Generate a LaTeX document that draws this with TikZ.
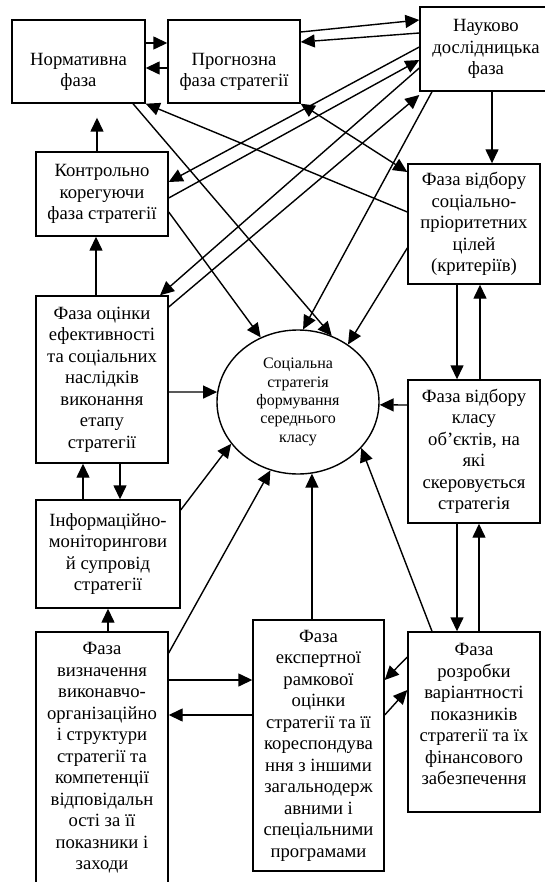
\documentclass[tikz,border=0pt]{standalone}
\usepackage{fontspec}
\setmainfont{Liberation Serif}
\usepackage{tikz}
\usetikzlibrary{
  arrows.meta,
  positioning,
  shapes.geometric
}
\tikzset{
  phasebox/.style={draw, line width=1.4pt, align=center, inner sep=2pt,
    font=\fontsize{18.67}{21.5}\selectfont},
  arr/.style={-{Triangle[length=14pt,width=13pt]}, line width=1.4pt},
  darr/.style={{Triangle[length=14pt,width=13pt]}-{Triangle[length=14pt,width=13pt]},
    line width=1.4pt},
}
\newcommand{\lowstrut}{\rule{0pt}{33pt}}
\newcommand{\deepstrut}{\rule[-16pt]{0pt}{16pt}}

\begin{document}
\begin{tikzpicture}[x=1pt, y=-1pt,
  goal/.style={draw, ellipse, line width=1.4pt, align=center,
    minimum width=162pt, minimum height=144pt, inner sep=0pt,
    font=\fontsize{16}{18.4}\selectfont}
]
  \useasboundingbox (0,0) rectangle (545,882);

  \node[phasebox, minimum width=133pt, minimum height=83pt] (norm) at (78.5,61.5)
    {\lowstrut Нормативна\\фаза};
  \node[phasebox, minimum width=132pt, minimum height=83pt] (prog) at (234,61.5)
    {\lowstrut Прогнозна\\фаза стратегії};
  \node[phasebox, minimum width=132pt, minimum height=84pt] (nauk) at (486,49)
    {Науково\\дослідницька\\фаза};
  \node[phasebox, minimum width=132pt, minimum height=84pt] (kontr) at (102,194)
    {Контрольно\\корегуючи\\фаза стратегії};
  \node[phasebox, minimum width=132pt, minimum height=167pt] (ocin) at (102,379.5)
    {Фаза оцінки\\ефективності\\та соціальних\\наслідків\\виконання\\етапу\\стратегії};
  \node[phasebox, minimum width=144pt, minimum height=108pt] (inf) at (108,554)
    {Інформаційно-\\моніторингови\\й супровід\\стратегії};
  \node[phasebox, minimum width=132pt, minimum height=252pt] (vyzn) at (102,758)
    {Фаза\\визначення\\виконавчо-\\організаційно\\і структури\\стратегії та\\компетенції\\відповідальн\\ості за її\\показники і\\заходи};
  \node[phasebox, minimum width=131pt, minimum height=251pt] (eksp) at (318.5,745.5)
    {Фаза\\експертної\\рамкової\\оцінки\\стратегії та її\\кореспондува\\ння з іншими\\загальнодерж\\авними і\\спеціальними\\програмами};
  \node[phasebox, minimum width=132pt, minimum height=180pt] (rozr) at (474,722)
    {Фаза\\розробки\\варіантності\\показників\\стратегії та їх\\фінансового\\забезпечення\deepstrut};
  \node[phasebox, minimum width=132pt, minimum height=143pt] (klas) at (474,451.5)
    {Фаза відбору\\класу\\об’єктів, на\\які\\скеровується\\стратегія};
  \node[phasebox, minimum width=132pt, minimum height=120pt] (cil) at (474,224)
    {Фаза відбору\\соціально-\\пріоритетних\\цілей\\(критеріїв)};
  \node[goal] (ell) at (298,402)
    {Соціальна\\стратегія\\формування\\середнього\\класу};

  % top row
  \draw[arr] (norm.east |- 0,43) -- (prog.west |- 0,43);
  \draw[arr] (prog.west |- 0,68) -- (norm.east |- 0,68);
  \draw[arr] (prog.east |- 0,32) -- (nauk.west |- 0,20);
  \draw[arr] (nauk.west |- 0,33) -- (prog.east |- 0,42);
  \draw[arr] (492,0 |- nauk.south) -- (492,0 |- cil.north);

  % left column
  \draw[arr, shorten >=14pt] (97,0 |- kontr.north) -- (97,0 |- norm.south);
  \draw[arr] (96,0 |- ocin.north) -- (96,0 |- kontr.south);
  \draw[arr] (83,0 |- inf.north) -- (83,0 |- ocin.south);
  \draw[arr] (120,0 |- ocin.south) -- (120,0 |- inf.north);
  \draw[arr] (108,0 |- vyzn.north) -- (108,0 |- inf.south);

  % bottom row
  \draw[arr] (vyzn.east |- 0,680) -- (eksp.west |- 0,680);
  \draw[arr] (eksp.west |- 0,715) -- (vyzn.east |- 0,715);
  \draw[arr] (rozr.west |- 0,657) -- (eksp.east |- 0,680);
  \draw[arr] (eksp.east |- 0,715) -- (rozr.west |- 0,690);

  % right column
  \draw[arr] (457,0 |- klas.south) -- (457,0 |- rozr.north);
  \draw[arr] (479,0 |- rozr.north) -- (479,0 |- klas.south);
  \draw[arr] (457,0 |- cil.south) -- (457,0 |- klas.north);
  \draw[arr] (480,0 |- klas.north) -- (480,0 |- cil.south);

  % crossing links
  \draw[arr] (nauk.west |- 0,47) -- (kontr.east |- 0,182);
  \draw[arr] (kontr.east |- 0,198) -- (nauk.west |- 0,60);
  \draw[arr] (nauk.west |- 0,68) -- (160,0 |- ocin.north);
  \draw[arr] (ocin.east |- 0,307) -- (nauk.west |- 0,95);
  \draw[darr] (prog.south east) -- (cil.west |- 0,172);
  \draw[arr] (cil.west |- 0,212) -- (norm.south east);

  % into the goal
  \draw[arr] (kontr.east |- 0,212) -- (ell.120.7);
  \draw[arr] (432,0 |- nauk.south) -- (ell.86);
  \draw[arr] (133,0 |- norm.south) -- (ell.63.8);
  \draw[arr] (cil.west |- 0,248) -- (ell.49.5);
  \draw[arr] (klas.west |- 0,405) -- (ell.-2);
  \draw[arr] (ocin.east |- 0,392) -- (ell.173);
  \draw[arr] (inf.east |- 0,510) -- (ell.212.2);
  \draw[arr] (vyzn.east |- 0,653) -- (ell.248.5);
  \draw[arr] (eksp.north -| ell.-79) -- (ell.-79);
  \draw[arr] (432,0 |- rozr.north) -- (ell.-36.7);
\end{tikzpicture}
\end{document}
